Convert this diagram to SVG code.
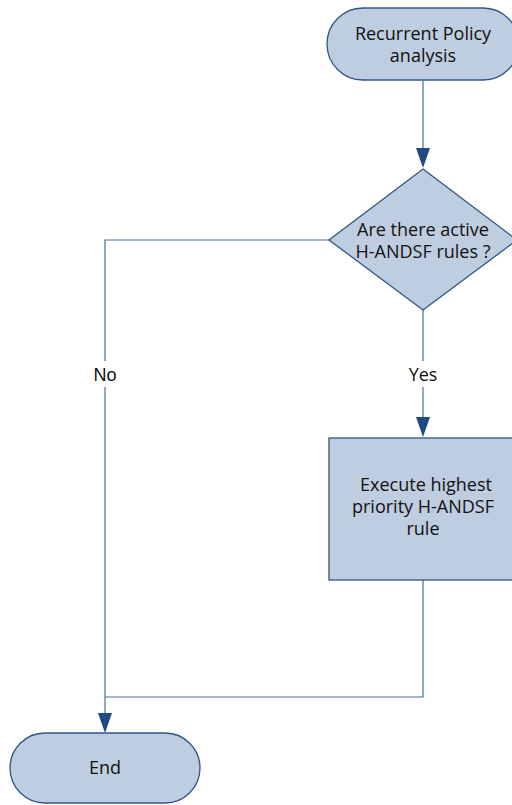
<svg xmlns="http://www.w3.org/2000/svg" width="512" height="805" viewBox="0 0 512 805">
  <style>
    .shape { fill: #bfcde0; stroke: #2e5585; stroke-width: 1.3; }
    .wire { fill: none; stroke: #4a6d9e; stroke-width: 1.2; }
    .label { font-family: "Open Sans", "Liberation Sans", sans-serif; font-size: 18px; fill: #111; text-anchor: middle; }
    .edge-no { font-family: "Liberation Sans", Arial, sans-serif; font-size: 18px; fill: #111; text-anchor: middle; }
    .head { fill: #1f4a82; }
  </style>
  <rect width="512" height="805" fill="#ffffff"/>

  <g id="connectors">
    <!-- start to decision -->
    <line class="wire" x1="423" y1="81" x2="423" y2="150"/>
    <path class="head" d="M416,148 L430,148 L423,168 Z"/>
    <!-- No branch -->
    <polyline class="wire" points="329,240 105,240 105,361"/>
    <line class="wire" x1="105" y1="387" x2="105" y2="715"/>
    <!-- Yes branch -->
    <line class="wire" x1="423" y1="310" x2="423" y2="361"/>
    <line class="wire" x1="423" y1="387" x2="423" y2="419"/>
    <path class="head" d="M416,417 L430,417 L423,437 Z"/>
    <!-- execute to merge -->
    <polyline class="wire" points="423,580 423,697 105,697"/>
    <path class="head" d="M98,713 L112,713 L105,733 Z"/>
    <text class="edge-no" x="105" y="381">No</text>
    <text class="label" x="423" y="381">Yes</text>
  </g>

  <g id="start">
    <rect class="shape" x="327" y="8" width="192" height="72" rx="36"/>
    <text class="label" x="423" y="40">Recurrent Policy</text>
    <text class="label" x="423" y="62">analysis</text>
  </g>

  <g id="decision">
    <polygon class="shape" points="423,169 517,240 423,310 329,240"/>
    <text class="label" x="423" y="236">Are there active</text>
    <text class="label" x="423" y="258">H-ANDSF rules ?</text>
  </g>

  <g id="execute">
    <rect class="shape" x="329" y="438" width="188" height="142"/>
    <text class="label" x="426" y="491">Execute highest</text>
    <text class="label" x="423" y="513">priority H-ANDSF</text>
    <text class="label" x="423" y="535">rule</text>
  </g>

  <g id="end">
    <rect class="shape" x="10" y="733" width="190" height="70" rx="35"/>
    <text class="label" x="105" y="774">End</text>
  </g>
</svg>
